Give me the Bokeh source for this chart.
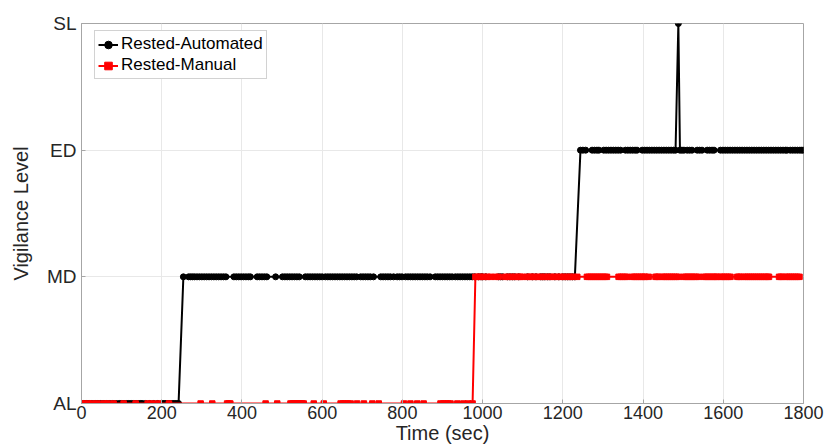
from bokeh.plotting import figure
from bokeh.models import Legend, LegendItem, FixedTicker
from bokeh.embed import file_html
from bokeh.resources import INLINE

# ---- data ----
level_names = ["AL", "MD", "ED", "SL"]
x_ticks = [0, 200, 400, 600, 800, 1000, 1200, 1400, 1600, 1800]

# Rested-Automated: sample times grouped by vigilance level
auto_al_t = [0, 6, 12, 19, 26, 34, 41, 48, 55, 62, 70, 78, 86, 94, 100, 106, 112, 118, 124, 130, 136, 142, 148,
             152, 160, 170, 180, 190, 202, 207, 212, 217, 222, 227, 232, 237, 242]
auto_md_t = [254, 267, 272, 277, 282, 288, 294, 300, 306, 312, 318, 324, 330, 336, 342, 348, 354, 360, 380, 386,
             392, 398, 404, 410, 416, 421, 438, 444, 450, 456, 462, 484, 501, 507, 513, 519, 525, 531, 537, 543,
             558, 564, 570, 576, 582, 588, 594, 600, 608, 614, 620, 626, 632, 638, 644, 650, 656, 662, 668, 674,
             680, 686, 696, 702, 708, 714, 720, 728, 746, 752, 758, 764, 770, 778, 787, 793, 799, 808, 814, 820,
             826, 832, 838, 844, 850, 856, 862, 869, 882, 888, 894, 900, 906, 912, 918, 924, 932, 938, 944, 950,
             956, 962, 968, 974, 980, 990, 996, 1000, 1008, 1040, 1045, 1050, 1062, 1068, 1074, 1080, 1090, 1112,
             1124, 1133, 1145, 1150, 1155, 1162, 1168, 1180, 1190, 1200, 1206, 1212, 1218, 1224, 1230]
auto_ed1_t = [1244, 1250, 1257, 1273, 1279, 1285, 1290, 1302, 1308, 1314, 1320, 1326, 1332, 1338, 1344, 1356, 1362,
              1368, 1374, 1380, 1385, 1398, 1404, 1410, 1416, 1422, 1428, 1434, 1440, 1446, 1452, 1458, 1464, 1470,
              1476, 1481]
auto_sl_t = [1488]
auto_ed2_t = [1492, 1497, 1502, 1510, 1516, 1522, 1535, 1541, 1547, 1560, 1566, 1572, 1577, 1593, 1599, 1605,
              1611, 1617, 1623, 1629, 1635, 1641, 1647, 1653, 1659, 1665, 1671, 1677, 1683, 1689, 1695, 1701, 1707,
              1713, 1719, 1725, 1731, 1737, 1743, 1749, 1755, 1759, 1767, 1773, 1779, 1785, 1791, 1796, 1800]

# Rested-Manual: sample times grouped by vigilance level
manual_al_t = [0, 5, 17, 27, 40, 55, 65, 80, 105, 135, 165, 177, 192, 218, 297, 326, 363, 367, 371, 459, 488, 521,
               526, 530, 534, 538, 542, 546, 550, 554, 579, 604, 646, 652, 658, 664, 671, 687, 704, 725, 741, 804,
               820, 837, 853, 895, 902, 908, 914, 920, 937, 952, 964, 975]
manual_md_t = [982, 988, 994, 1003, 1012, 1020, 1032, 1040, 1056, 1064, 1072, 1080, 1088, 1094, 1100, 1111, 1117,
               1123, 1130, 1138, 1146, 1154, 1162, 1170, 1178, 1186, 1194, 1202, 1210, 1218, 1226, 1236, 1260, 1265,
               1270, 1275, 1280, 1285, 1290, 1295, 1300, 1305, 1310, 1339, 1344, 1349, 1355, 1360, 1373, 1378, 1383,
               1388, 1393, 1398, 1403, 1406, 1414, 1431, 1435, 1439, 1448, 1453, 1458, 1463, 1468, 1473, 1478, 1483,
               1489, 1502, 1507, 1512, 1517, 1522, 1527, 1532, 1539, 1552, 1557, 1562, 1567, 1572, 1577, 1582, 1585,
               1593, 1598, 1603, 1608, 1613, 1618, 1635, 1639, 1643, 1651, 1656, 1661, 1666, 1671, 1676, 1681, 1686,
               1691, 1696, 1701, 1706, 1711, 1714, 1739, 1743, 1747, 1755, 1760, 1765, 1770, 1775, 1780, 1785, 1790]

auto_t = auto_al_t + auto_md_t + auto_ed1_t + auto_sl_t + auto_ed2_t
auto_lvl = ([0] * len(auto_al_t) + [1] * len(auto_md_t) + [2] * len(auto_ed1_t)
            + [3] * len(auto_sl_t) + [2] * len(auto_ed2_t))
manual_t = manual_al_t + manual_md_t
manual_lvl = [0] * len(manual_al_t) + [1] * len(manual_md_t)

# ---- figure ----
FONT = "Liberation Sans"
TXT = "#262626"
p = figure(width=829, height=447, output_backend="svg", toolbar_location=None,
           x_range=(0, 1800), y_range=(0, 3),
           min_border_left=81, min_border_right=26, min_border_top=23, min_border_bottom=44)
p.background_fill_color = "white"
p.border_fill_color = "white"
p.outline_line_color = "#a6a6a6"
p.outline_line_width = 1

for ax in (p.xaxis[0], p.yaxis[0]):
    ax.axis_line_color = "#a6a6a6"
    ax.major_tick_line_color = "#a6a6a6"
    ax.major_tick_in = 4
    ax.major_tick_out = 0
    ax.minor_tick_line_color = None
    ax.major_label_text_font = FONT
    ax.major_label_text_color = TXT
    ax.axis_label_text_font = FONT
    ax.axis_label_text_color = TXT
    ax.axis_label_text_font_style = "normal"

p.xaxis.ticker = FixedTicker(ticks=x_ticks)
p.xaxis.major_label_text_font_size = "18px"
p.xaxis.major_label_standoff = 2
p.xaxis.axis_label = "Time (sec)"
p.xaxis.axis_label_text_font_size = "20px"
p.xaxis.axis_label_standoff = 0

p.yaxis.ticker = FixedTicker(ticks=[0, 1, 2, 3])
p.yaxis.major_label_overrides = {i: n for i, n in enumerate(level_names)}
p.yaxis.major_label_text_font_size = "19px"
p.yaxis.major_label_standoff = 5
p.yaxis.axis_label = "Vigilance Level"
p.yaxis.axis_label_text_font_size = "20px"
p.yaxis.axis_label_standoff = 12

p.xgrid.ticker = FixedTicker(ticks=x_ticks)
p.ygrid.ticker = FixedTicker(ticks=[0, 1, 2, 3])
for g in (p.xgrid[0], p.ygrid[0]):
    g.grid_line_color = "#e8e8e8"
    g.grid_line_width = 1

l1 = p.line(auto_t, auto_lvl, line_color="black", line_width=2)
c1 = p.scatter(auto_t, auto_lvl, marker="circle", size=6, fill_color="black", line_color="black")
l2 = p.line(manual_t, manual_lvl, line_color="#ff0000", line_width=2)
c2 = p.scatter(manual_t, manual_lvl, marker="square", size=5.5, fill_color="#ff0000", line_color="#ff0000")

legend = Legend(items=[LegendItem(label="Rested-Automated", renderers=[l1, c1]),
                       LegendItem(label="Rested-Manual", renderers=[l2, c2])],
                location=(13, 324))
legend.label_text_font = FONT
legend.label_text_font_size = "17px"
legend.label_text_color = "black"
legend.label_height = 19
legend.glyph_height = 19
legend.glyph_width = 20
legend.label_standoff = 3
legend.spacing = 1
legend.padding = 3
legend.margin = 0
legend.border_line_color = "#a6a6a6"
legend.background_fill_color = "white"
legend.background_fill_alpha = 1
p.add_layout(legend)

open("out.html", "w").write(file_html(p, INLINE))
